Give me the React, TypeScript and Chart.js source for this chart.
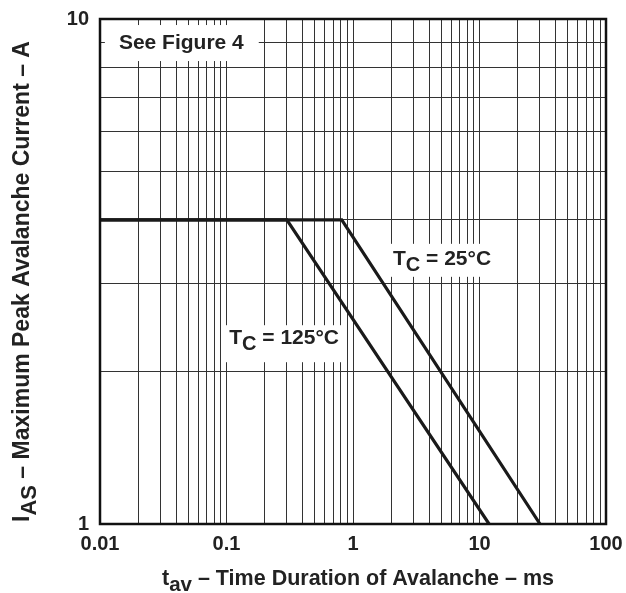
import { useEffect, useRef } from 'react';
import { Chart, registerables } from 'chart.js';
Chart.register(...registerables);

// ---- data ----
const tau125 = [0.01, 0.3, 11.9];
const ias125 = [4, 4, 1];
const tau25 = [0.01, 0.815, 30.1];
const ias25 = [4, 4, 1];
const xTickLabels = ['0.01', '0.1', '1', '10', '100'];
const yTickLabels = ['1', '10'];
const xMin = 0.01, xMax = 100, yMin = 1, yMax = 10;

const FONT = "'Liberation Sans', Arial, Helvetica, sans-serif";

type Ann = { main: string; sub: string; rest: string; x: number; y: number; pad: [number, number, number, number] };
const annotations: Ann[] = [
  { main: 'See Figure 4', sub: '', rest: '', x: 0.0141, y: 8.72, pad: [14, 15, 24, 12] },
  { main: 'T', sub: 'C', rest: ' = 25°C', x: 2.07, y: 3.26, pad: [9, 5, 21, 12] },
  { main: 'T', sub: 'C', rest: ' = 125°C', x: 0.105, y: 2.27, pad: [5, 4, 19, 18] },
];

const TICK = 20;

function drawSubText(ctx: CanvasRenderingContext2D, size: number, main: string, sub: string, rest: string, x: number, y: number) {
  ctx.textBaseline = 'alphabetic';
  ctx.textAlign = 'left';
  ctx.font = `bold ${size}px ${FONT}`;
  ctx.fillText(main, x, y);
  let cx = x + ctx.measureText(main).width;
  if (sub) {
    ctx.font = `bold ${size - 1}px ${FONT}`;
    ctx.fillText(sub, cx, y + Math.round(size * 0.3));
    cx += ctx.measureText(sub).width;
  }
  ctx.font = `bold ${size}px ${FONT}`;
  ctx.fillText(rest, cx, y);
  cx += ctx.measureText(rest).width;
  return cx - x;
}
function measureSubText(ctx: CanvasRenderingContext2D, size: number, main: string, sub: string, rest: string) {
  ctx.font = `bold ${size}px ${FONT}`;
  let w = ctx.measureText(main).width + ctx.measureText(rest).width;
  ctx.font = `bold ${size - 1}px ${FONT}`;
  w += sub ? ctx.measureText(sub).width : 0;
  return w;
}

const decor = {
  id: 'decor',
  beforeDatasetsDraw(chart: any) {
    const { ctx, scales } = chart;
    ctx.save();
    for (const a of annotations) {
      const px = scales.x.getPixelForValue(a.x);
      const py = scales.y.getPixelForValue(a.y);
      const w = measureSubText(ctx, 21, a.main, a.sub, a.rest);
      ctx.fillStyle = '#fff';
      ctx.fillRect(px - a.pad[0], py - a.pad[2], w + a.pad[0] + a.pad[1], a.pad[2] + a.pad[3]);
      ctx.fillStyle = '#222';
      drawSubText(ctx, 21, a.main, a.sub, a.rest, px, py);
    }
    ctx.restore();
  },
  afterDraw(chart: any) {
    const { ctx, chartArea } = chart;
    ctx.save();
    ctx.strokeStyle = '#111';
    ctx.lineWidth = 2.5;
    ctx.strokeRect(chartArea.left, chartArea.top, chartArea.right - chartArea.left, chartArea.bottom - chartArea.top);
    ctx.fillStyle = '#222';
    // x title
    const xt = { main: 't', sub: 'av', rest: ' – Time Duration of Avalanche – ms' };
    const wx = measureSubText(ctx, 21.5, xt.main, xt.sub, xt.rest);
    const cxm = (chartArea.left + chartArea.right) / 2 + 5;
    drawSubText(ctx, 21.5, xt.main, xt.sub, xt.rest, cxm - wx / 2, 585);
    // y title
    const yt = { main: 'I', sub: 'AS', rest: ' – Maximum Peak Avalanche Current – A' };
    const wy = measureSubText(ctx, 23, yt.main, yt.sub, yt.rest);
    ctx.translate(29, (chartArea.top + chartArea.bottom) / 2 + 10);
    ctx.rotate(-Math.PI / 2);
    drawSubText(ctx, 23, yt.main, yt.sub, yt.rest, -wy / 2, 0);
    ctx.restore();
  },
};

function isPow10(v: number) {
  const l = Math.log10(v);
  return Math.abs(l - Math.round(l)) < 1e-6;
}

function logGridValues(min: number, max: number) {
  const out: { value: number }[] = [];
  const e0 = Math.round(Math.log10(min));
  const e1 = Math.round(Math.log10(max));
  for (let e = e0; e < e1; e++) {
    for (let m = 1; m <= 9; m++) out.push({ value: Number((m * Math.pow(10, e)).toPrecision(6)) });
  }
  out.push({ value: max });
  return out;
}

export default function App() {
  const ref = useRef<HTMLCanvasElement>(null);
  useEffect(() => {
    if (!ref.current) return;
    const chart = new Chart(ref.current, {
      type: 'line',
      data: {
        datasets: [
          {
            label: 'TC = 125°C',
            data: tau125.map((t, i) => ({ x: t, y: ias125[i] })),
            borderColor: '#1a1a1a',
            borderWidth: 3.2,
            pointRadius: 0,
            fill: false,
            tension: 0,
          },
          {
            label: 'TC = 25°C',
            data: tau25.map((t, i) => ({ x: t, y: ias25[i] })),
            borderColor: '#1a1a1a',
            borderWidth: 3.2,
            pointRadius: 0,
            fill: false,
            tension: 0,
          },
        ],
      },
      options: {
        animation: false,
        responsive: false,
        layout: { padding: { top: 19, right: 20, left: 0, bottom: 0 } },
        plugins: { legend: { display: false }, tooltip: { enabled: false }, title: { display: false } },
        scales: {
          x: {
            type: 'logarithmic',
            min: xMin,
            max: xMax,
            border: { display: false },
            grid: { color: '#333', lineWidth: 1, drawTicks: false },
            afterBuildTicks: (s: any) => {
              s.ticks = logGridValues(xMin, xMax);
            },
            ticks: {
              autoSkip: false,
              maxRotation: 0,
              padding: 8,
              color: '#222',
              font: { family: FONT, size: TICK, weight: 'bold' },
              callback: (v: any) => (isPow10(Number(v)) ? xTickLabels[Math.round(Math.log10(Number(v))) + 2] : ''),
            },
            afterFit: (s: any) => {
              s.height = 69;
              s.paddingLeft = 0;
              s.paddingRight = 0;
            },
          },
          y: {
            type: 'logarithmic',
            min: yMin,
            max: yMax,
            border: { display: false },
            grid: { color: '#333', lineWidth: 1, drawTicks: false },
            afterBuildTicks: (s: any) => {
              s.ticks = logGridValues(yMin, yMax);
            },
            ticks: {
              autoSkip: false,
              padding: 11,
              color: '#222',
              font: { family: FONT, size: TICK, weight: 'bold' },
              callback: (v: any) => (isPow10(Number(v)) ? yTickLabels[Math.round(Math.log10(Number(v)))] : ''),
            },
            afterFit: (s: any) => {
              s.width = 100;
              s.paddingTop = 0;
              s.paddingBottom = 0;
            },
          },
        },
      } as any,
      plugins: [decor],
    });
    return () => chart.destroy();
  }, []);
  return (
    <div style={{ position: 'fixed', left: 0, top: 0, width: 626, height: 593, background: '#fff' }}>
      <canvas ref={ref} width={626} height={593} />
    </div>
  );
}
